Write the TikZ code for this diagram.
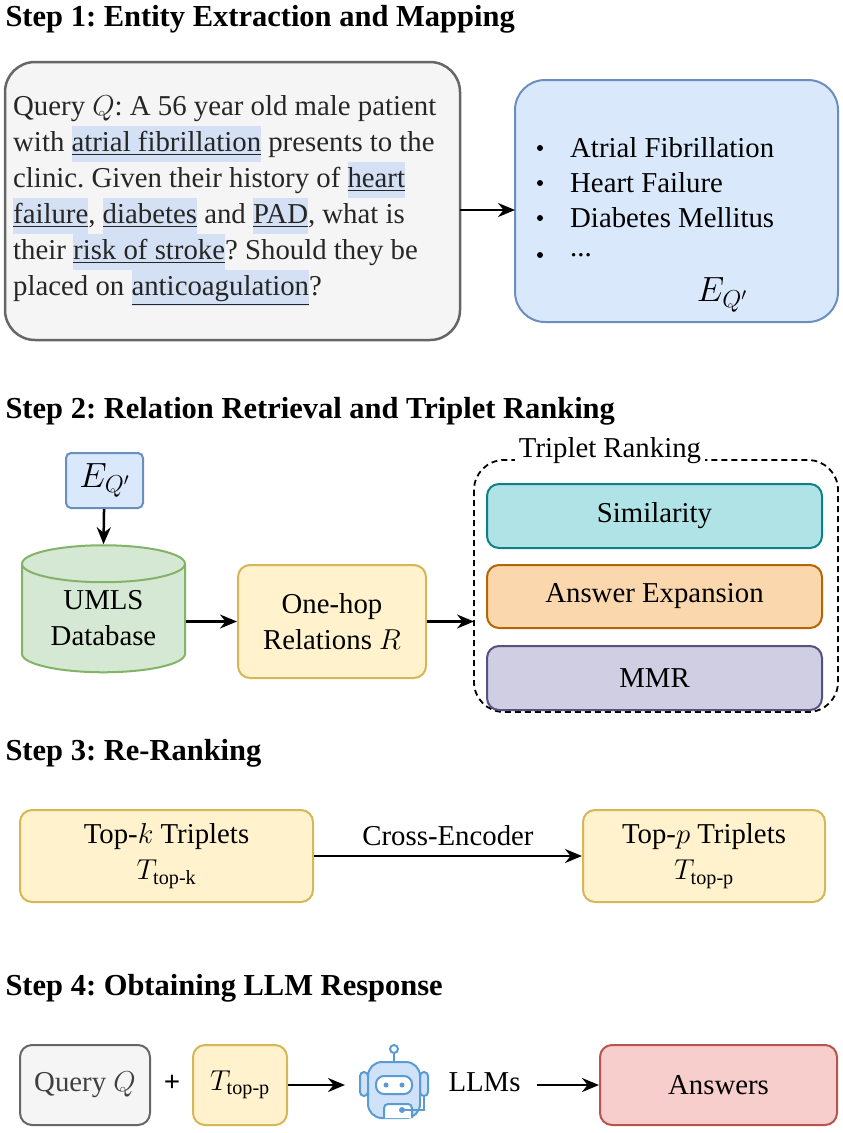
\documentclass[tikz,border=0pt]{standalone}
\usepackage{fix-cm}
\usepackage{amsmath}
\usepackage{fontspec}
\setmainfont{Liberation Serif}
\usetikzlibrary{shapes.geometric,arrows.meta}
\definecolor{hl}{HTML}{D4E1F5}
\definecolor{grayf}{HTML}{F5F5F5}\definecolor{grayd}{HTML}{666666}
\definecolor{bluef}{HTML}{DAE8FC}\definecolor{blued}{HTML}{6C8EBF}
\definecolor{greenf}{HTML}{D5E8D4}\definecolor{greend}{HTML}{82B366}
\definecolor{yelf}{HTML}{FFF2CC}\definecolor{yeld}{HTML}{D6B656}
\definecolor{tealf}{HTML}{B0E3E6}\definecolor{teald}{HTML}{0E8088}
\definecolor{orf}{HTML}{FAD7AC}\definecolor{ord}{HTML}{B46504}
\definecolor{purf}{HTML}{D0CEE2}\definecolor{purd}{HTML}{56517E}
\definecolor{redf}{HTML}{F8CECC}\definecolor{redd}{HTML}{B85450}
\definecolor{robd}{HTML}{5B9BD5}\definecolor{robf}{HTML}{CFE2F7}
\newcommand{\hlt}[1]{{\setlength{\fboxsep}{0pt}\colorbox{hl}{\strut\underline{#1}}}}
\frenchspacing
\begin{document}
\begin{tikzpicture}[x=1pt,y=-1pt,
  every node/.style={font=\fontsize{28.8}{36}\selectfont},
  big/.style={font=\fontsize{35}{38}\selectfont},
  head/.style={anchor=base west,font=\fontsize{30.5}{34}\selectfont\bfseries},
  box/.style={draw,line width=2pt,rounded corners=12pt,align=center,inner sep=0pt},
  arr/.style={-{Stealth[length=17pt,width=14pt]},line width=2.5pt}]
\useasboundingbox (0,0) rectangle (843,1133);
% Step 1
\node[head] (h1) at (2,26) {Step 1: Entity Extraction and Mapping};
\draw[fill=grayf,draw=grayd,line width=2.5pt,rounded corners=30pt] (5,62) rectangle (460,340);
\node[anchor=north west,align=left,inner sep=0pt,text=black!85] (q) at (13,95) {%
Query $Q$: A 56 year old male patient\\
with \hlt{atrial fibrillation} presents to the\\
clinic. Given their history of \hlt{heart}\\
\hlt{failure}, \hlt{diabetes} and \hlt{PAD}, what is\\
their \hlt{risk of stroke}? Should they be\\
placed on \hlt{anticoagulation}?};
\coordinate (qa) at (460,210);
\draw[fill=bluef,draw=blued,line width=2pt,rounded corners=30pt] (515,80) rectangle (838,322);
\coordinate (ea) at (515,210);
\draw[arr] (qa) -- (ea);
\foreach \y/\t in {148/{Atrial Fibrillation},183/{Heart Failure},218/{Diabetes Mellitus},255/{...}}{
  \fill (540,\y) circle (3pt);
  \node[anchor=west,inner sep=0pt] at (570,\y) {\t};}
\node[big] (eq) at (722,295) {$E_{Q'}$};
% Step 2
\node[head] (h2) at (2,418) {Step 2: Relation Retrieval and Triplet Ranking};
\node[box,big,fill=bluef,draw=blued,rounded corners=5pt,minimum width=77pt,minimum height=55pt] (e2) at (104.5,480.5) {$E_{Q'}$};
\node[cylinder,shape border rotate=90,aspect=0.35,draw=greend,fill=greenf,line width=2pt,minimum width=163pt,minimum height=127pt,align=center,inner sep=0pt] (db) at (103.5,618.5) {UMLS\\Database};
\draw[arr] (e2) -- (db.top);
\node[box,fill=yelf,draw=yeld,minimum width=188pt,minimum height=113pt] (oh) at (332,621.5) {One-hop\\Relations $R$};
\draw[arr] (db.east|-oh) -- (oh);
\draw[dash pattern=on 6pt off 4pt,line width=1.8pt,rounded corners=30pt] (474,460) rectangle (838,712);
\node[fill=white,inner sep=4pt] (tr) at (610,451) {Triplet Ranking};
\coordinate (tri) at (474,621.5);
\draw[arr] (oh) -- (tri);
\node[box,fill=tealf,draw=teald,minimum width=335pt,minimum height=64pt] (sim) at (654.5,516) {Similarity};
\node[box,fill=orf,draw=ord,minimum width=335pt,minimum height=63pt] (ae) at (654.5,596.5) {Answer Expansion};
\node[box,fill=purf,draw=purd,minimum width=335pt,minimum height=64pt] (mmr) at (654.5,678) {MMR};
% Step 3
\node[head] (h3) at (2,760) {Step 3: Re-Ranking};
\node[box,fill=yelf,draw=yeld,minimum width=293pt,minimum height=92pt] (tk) at (166.5,856) {Top-$k$ Triplets\\$T_{\text{top-k}}$};
\node[box,fill=yelf,draw=yeld,minimum width=242pt,minimum height=92pt] (tp) at (704,856) {Top-$p$ Triplets\\$T_{\text{top-p}}$};
\draw[arr] (tk) -- node[above=6pt] {Cross-Encoder} (tp);
% Step 4
\node[head] (h4) at (2,995) {Step 4: Obtaining LLM Response};
\node[box,fill=grayf,draw=grayd,minimum width=130pt,minimum height=80pt,text=black!75] (qq) at (85,1085) {Query $Q$};
\node (plus) at (172,1083) {\textbf{+}};
\node[box,fill=yelf,draw=yeld,minimum width=94pt,minimum height=80pt] (tt) at (240,1085) {$T_{\text{top-p}}$};
\coordinate (rb) at (345,1085);
\draw[arr] (tt) -- (rb);
% robot
\begin{scope}[line width=2pt]
\draw[robd] (394,1052) -- (394,1062);
\draw[robd,fill=white] (394,1049) circle (4pt);
\draw[robd,fill=robf,rounded corners=4pt] (360,1072) rectangle (368,1096);
\draw[robd,fill=robf,rounded corners=4pt] (420,1072) rectangle (428,1096);
\draw[robd,fill=robf,rounded corners=14pt] (368,1062) rectangle (420,1118);
\draw[robd,fill=white,rounded corners=8pt] (376,1076) rectangle (412,1094);
\fill[robd] (386,1085) circle (2.5pt) (402,1085) circle (2.5pt);
\draw[robd,fill=white,rounded corners=4pt] (384,1118) -- (384,1104) -- (412,1104) -- (412,1118);
\draw[robd] (424,1096) -- (424,1110) -- (404,1110);
\fill[robd] (402,1110) circle (3pt);
\end{scope}
\node[anchor=west] (llm) at (445,1082) {LLMs};
\node[box,fill=redf,draw=redd,minimum width=237pt,minimum height=80pt] (ans) at (718.5,1085) {Answers};
\coordinate (lo) at (537,1085);
\draw[arr] (lo) -- (ans);
\end{tikzpicture}
\end{document}
